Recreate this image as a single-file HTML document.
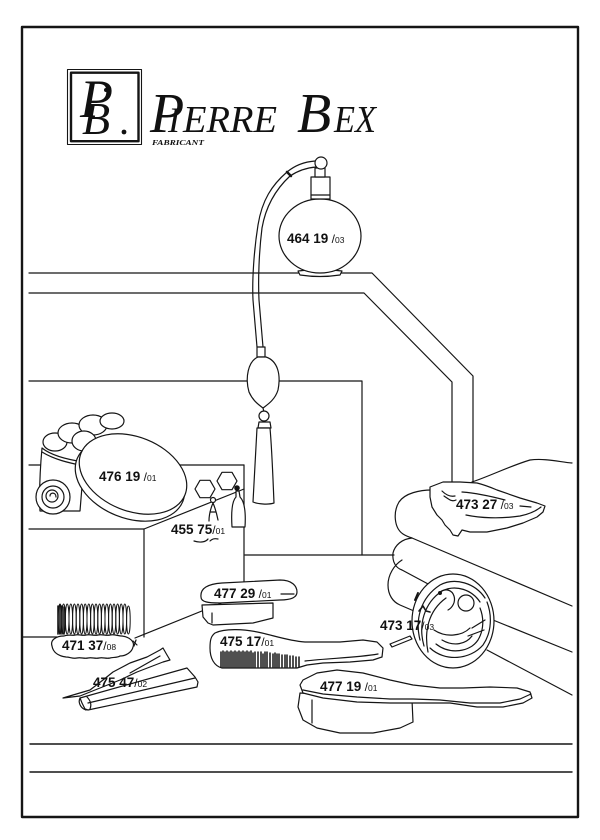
<!DOCTYPE html>
<html><head><meta charset="utf-8"><style>
html,body{margin:0;padding:0;background:#fff}
svg{display:block}
.lb{font-family:"Liberation Sans",sans-serif;font-weight:bold;font-size:13.5px;fill:#111;stroke:none}
.sl{font-weight:normal;font-size:12px}
.sf{font-weight:normal;font-size:8.5px}
.srf{font-family:"Liberation Serif",serif;font-style:italic;fill:#111;stroke:none}
</style></head><body>
<svg width="600" height="840" viewBox="0 0 600 840" xmlns="http://www.w3.org/2000/svg">
<rect width="600" height="840" fill="#fff"/>
<g fill="none" stroke="#151515" stroke-width="1.2" stroke-linejoin="round" stroke-linecap="round">
<!-- frame -->
<rect x="22" y="27" width="556" height="790" stroke-width="2.4"/>
<!-- logo box -->
<rect x="67.5" y="69.5" width="74" height="75" stroke-width="1.1"/>
<rect x="71" y="72.7" width="67.5" height="68.5" stroke-width="2.4"/>
<circle cx="124" cy="132" r="2.4" fill="#111" stroke="none"/>
<circle cx="106" cy="90" r="2" fill="#111" stroke="none"/>

<!-- shelf lines -->
<path d="M29,273 L372,273 L473,376 L473,482"/>
<path d="M29,293 L364,293 L452,382 L452,482"/>
<path d="M29,381 L362,381 L362,555"/>
<path d="M245,555 L394,555"/>
<path d="M29,465 L244,465"/>
<path d="M244,465 L244,585"/>
<path d="M29,529 L144,529 L244,489"/>
<path d="M144,529 L144,637"/>
<path d="M23,637 L57,637"/>
<path d="M135,638 L244,594"/>
<!-- bottom lines -->
<path d="M30,744 L572,744" stroke-width="1.4"/>
<path d="M30,772 L572,772" stroke-width="1.4"/>

<!-- perfume bottle -->
<path d="M298,271 Q320,268 342,271 L340,275 Q320,278 300,275 Z" fill="#fff"/>
<ellipse cx="320" cy="236" rx="41" ry="37" fill="#fff"/>
<rect x="311" y="177" width="19" height="22" fill="#fff"/>
<path d="M311,195 L330,195"/>
<rect x="315" y="168" width="10" height="9" fill="#fff"/>
<circle cx="321" cy="163" r="6" fill="#fff"/>
<!-- tube -->
<path d="M315,161 C302,162 293,167 287,172 C272,185 262,200 258,225 C254,250 252,280 253,300 L257,347"/>
<path d="M316,167 C304,168 296,172 290,176 C276,189 266,205 262,228 C259,252 258,280 259,300 L263,347"/>
<path d="M287,172 L291,176" stroke-width="2.5"/>
<!-- bulb -->
<rect x="257" y="347" width="8" height="10" fill="#fff"/>
<path d="M258,357 C248,361 245,378 249,392 C253,401 259,405 263,408 C267,405 275,400 278,390 C281,375 278,361 266,357 Z" fill="#fff"/>
<path d="M263,408 L264,412"/>
<circle cx="264" cy="416" r="5" fill="#fff"/>
<path d="M259,422 L270,422 L271,428 L258,428 Z" fill="#fff"/>
<path d="M257,428 L270,428 C272,450 273,480 274,503 C268,505 258,504 253,502 C254,480 256,450 257,428 Z" fill="#fff"/>

<!-- powder bowl and puffs -->
<ellipse cx="55" cy="442" rx="12" ry="9" fill="#fff"/>
<ellipse cx="72" cy="433" rx="14" ry="10" fill="#fff"/>
<ellipse cx="93" cy="425" rx="14" ry="10" fill="#fff"/>
<ellipse cx="112" cy="421" rx="12" ry="8" fill="#fff"/>
<ellipse cx="84" cy="441" rx="12" ry="10" fill="#fff"/>
<path d="M42,448 C40,470 39,490 40,511 L80,511 L84,462 C70,460 52,456 42,448 Z" fill="#fff"/>
<path d="M42,452 C55,460 70,463 84,466"/>
<circle cx="53" cy="497" r="17" fill="#fff"/>
<circle cx="53" cy="497" r="11"/>
<circle cx="52" cy="496" r="6"/>
<path d="M50,496 C50,492 56,492 56,497"/>
<!-- powder lid -->
<ellipse cx="130" cy="480" rx="57" ry="38" transform="rotate(22 130 480)" fill="#fff"/>
<ellipse cx="133" cy="474" rx="56" ry="37" transform="rotate(22 133 474)" fill="#fff"/>

<!-- earrings -->
<polygon points="215,489 210,480.3 200,480.3 195,489 200,497.7 210,497.7" fill="#fff"/>
<polygon points="237,481 232,472.3 222,472.3 217,481 222,489.7 232,489.7" fill="#fff"/>
<circle cx="213" cy="500" r="2.5" fill="#fff"/>
<circle cx="237" cy="488" r="2.2" fill="#111"/>
<path d="M213,503 C210,510 209,515 209,521 M213,503 C216,510 217,515 218,520 M210,512 L216,512"/>
<path d="M236,491 L236,497 C232,501 231,511 232,527 L245,527 C246,511 244,501 240,497 L239,491 Z" fill="#fff"/>
<path d="M194,541 C200,543 206,542 208,539 M210,541 C212,539 214,538 218,539"/>

<!-- towels -->
<path d="M472,482 C490,476 510,466 530,460 C545,458 560,462 572,463"/>
<path d="M432,490 C420,490 405,493 399,502 C393,512 394,528 403,534 C406,536 409,537 412,538 L572,606"/>
<path d="M412,538 C402,539 395,545 393,553 C392,562 396,568 402,570 L430,585"/>
<path d="M493,620 L572,652"/>
<path d="M402,560 C394,565 388,575 388,585 C388,595 393,602 400,605 L414,611"/>
<path d="M487,650 L572,695"/>

<!-- soap dish -->
<path d="M430,487 L443,482 L460,482 L477,483 C485,485 490,487 497,490 L520,498 L537,503 L545,506 L543,512 L537,517 L523,523 L507,528 L487,532 L470,532 L462,530 L458,536 L453,535 L450,530 L445,525 L442,520 L437,515 L432,507 L430,497 Z" fill="#fff"/>
<path d="M442,491 C446,495 450,497 455,496 M444,496 C450,500 452,502 456,500"/>
<path d="M466,515 C480,518 500,519 520,516 C530,514 536,511 541,507"/>
<path d="M520,506 L531,507"/>
<path d="M462,492 C475,493 490,496 505,500"/>

<!-- mirror -->
<ellipse cx="453" cy="621" rx="41" ry="47" fill="#fff"/>
<path d="M420,640 C415,620 420,598 440,585 C455,577 475,583 485,598"/>
<path d="M424,646 C418,625 424,603 442,591 C456,584 472,590 480,602"/>
<path d="M428,652 C424,632 428,611 446,598"/>
<path d="M430,648 C445,662 470,660 483,645 C492,632 492,615 487,602"/>
<path d="M436,644 C450,655 470,652 478,640 C484,630 484,618 480,608"/>
<path d="M442,640 C454,647 466,644 472,636"/>
<path d="M434,630 C446,638 462,636 470,628"/>
<path d="M472,628 L485,620 M468,636 L484,630"/>
<circle cx="466" cy="603" r="8" fill="#fff"/>
<path d="M440,592 C446,588 452,590 454,596 C456,602 452,608 448,610"/>
<circle cx="440" cy="593" r="1.4" fill="#111"/>
<path d="M419,611 L423,606 L426,611 L430,612" stroke-width="1.6"/>
<path d="M415,600 L418,593" stroke-width="2"/>
<path d="M390,644 L410,636 L412,639 L392,647 Z" fill="#fff"/>

<!-- brush 477 29 -->
<path d="M202,605 L203,617 L208,623 L213,625 L253,623 L273,618 L273,603 Z" fill="#fff"/>
<path d="M212,613 L212,623"/>
<path d="M201,597 C200,588 208,584 222,583 L280,580 C292,580 297,586 297,592 C297,598 290,600 280,600 L220,603 C208,603 201,602 201,597 Z" fill="#fff"/>
<path d="M281,594 L294,594"/>

<!-- brush 475 17 -->
<path d="M215,633 C225,628 245,629 262,633 C275,636 290,641 305,642 L340,642 L363,640 L377,642 L383,648 L382,657 L373,660 L350,662 L323,663 L307,665 L297,668 L222,668 C214,666 210,658 210,648 C210,640 211,636 215,633 Z" fill="#fff"/>
<path d="M305,661 C330,658 355,658 378,654"/>
<g stroke-width="1.5">
<path d="M221,652 L221,667 M223,651 L223,667 M225,652 L225,667 M227,651 L227,667 M229,652 L229,667 M231,651 L231,667 M233,652 L233,667 M235,651 L235,667 M237,652 L237,667 M239,651 L239,667 M241,652 L241,667 M243,651 L243,667 M245,652 L245,667 M247,651 L247,667 M249,652 L249,667 M251,651 L251,667 M253,653 L253,667 M255,652 L255,667 M258,652 L258,667 M261,652 L261,667 M263,654 L263,667 M265,652 L265,667 M267,652 L267,667 M270,653 L270,667 M273,654 L273,667 M275,653 L275,667 M277,654 L277,667 M279,654 L279,667 M282,655 L282,667 M285,655 L285,667 M287,655 L287,667 M290,656 L290,667 M293,656 L293,667 M296,657 L296,667 M299,657 L299,667"/>
</g>

<!-- brush 477 19 -->
<path d="M300,693 L298,707 L303,720 L317,728 L340,733 L373,733 L400,728 L413,722 L412,700 Z" fill="#fff"/>
<path d="M312,700 L312,723"/>
<path d="M300,685 L303,680 L317,673 L337,670 L363,673 L390,680 L413,685 L440,688 L463,688 L490,687 L517,688 L530,692 L532,698 L523,703 L503,707 L477,707 L450,703 L430,703 L413,703 L390,703 L357,702 L323,698 L303,693 Z" fill="#fff"/>
<path d="M303,690 L323,694 L357,697 L390,699 L413,699 L440,700 L470,703 L500,703 L520,699 L531,694"/>

<!-- comb 471 37 -->
<path d="M52,646 C50,640 56,636 64,636 C68,634 72,636 75,635 C79,634 82,636 86,635 C90,634 94,636 98,635 C102,634 106,636 110,635 C114,634 118,636 122,636 C130,637 135,642 133,647 C132,652 126,656 120,656 C117,658 113,657 110,658 C106,659 103,657 99,658 C95,659 92,657 88,658 C84,659 81,657 77,658 C73,659 70,657 66,657 C58,656 53,652 52,646 Z" fill="#fff"/>
<g stroke-width="1">
<ellipse cx="60" cy="619" rx="1.8" ry="15"/><ellipse cx="63.6" cy="619" rx="1.8" ry="15"/><ellipse cx="67.2" cy="619" rx="1.8" ry="15"/><ellipse cx="70.8" cy="619" rx="1.8" ry="15"/><ellipse cx="74.4" cy="619" rx="1.8" ry="15"/><ellipse cx="78" cy="619" rx="1.8" ry="15"/><ellipse cx="81.6" cy="619" rx="1.8" ry="15"/><ellipse cx="85.2" cy="619" rx="1.8" ry="15"/><ellipse cx="88.8" cy="619" rx="1.8" ry="15"/><ellipse cx="92.4" cy="619" rx="1.8" ry="15"/><ellipse cx="96" cy="619" rx="1.8" ry="15"/><ellipse cx="99.6" cy="619" rx="1.8" ry="15"/><ellipse cx="103.2" cy="619" rx="1.8" ry="15"/><ellipse cx="106.8" cy="619" rx="1.8" ry="15"/><ellipse cx="110.4" cy="619" rx="1.8" ry="15"/><ellipse cx="114" cy="619" rx="1.8" ry="15"/><ellipse cx="117.6" cy="619" rx="1.8" ry="15"/><ellipse cx="121.2" cy="619" rx="1.8" ry="15"/><ellipse cx="124.8" cy="619" rx="1.8" ry="15"/><ellipse cx="128.4" cy="620" rx="1.8" ry="14"/>
</g>
<path d="M58,606 L58,634 M60,605 L60,634 M62,606 L62,634 M64,607 L64,634" stroke-width="1.6"/>
<path d="M133,641 L137,645 M136,640 L134,646"/>

<!-- comb 475 47 -->
<path d="M63,698 L73,695 L90,690 L103,680 L113,672 L130,663 L147,657 L160,650 L163,648 L167,655 L170,660 L163,662 L150,667 L137,672 L120,680 L100,688 L80,696 Z" fill="#fff"/>
<path d="M80,698 L187,668 L195,677 L198,682 L197,687 L88,710 L85,709 L82,703 Z" fill="#fff"/>
<path d="M80,698 C78,702 80,708 86,710"/>
<path d="M87,697 C90,700 92,704 90,709"/>
<path d="M88,703 L195,678"/>
<path d="M130,673 L160,656"/>
</g>

<!-- text -->
<text class="srf" x="80" y="117" font-size="54">P</text>
<text class="srf" x="82" y="134" font-size="46">B</text>
<text class="srf" x="150" y="132" font-size="56">P</text>
<text class="srf" x="168" y="132" font-size="36">I</text>
<text class="srf" x="183" y="132" font-size="38" textLength="94" lengthAdjust="spacingAndGlyphs">ERRE</text>
<text class="srf" x="297" y="132" font-size="56">B</text>
<text class="srf" x="334" y="132" font-size="38" textLength="42" lengthAdjust="spacingAndGlyphs">EX</text>
<text x="152" y="145" font-family="'Liberation Serif',serif" font-style="italic" font-weight="bold" font-size="7.5" textLength="52" lengthAdjust="spacingAndGlyphs" fill="#111">FABRICANT</text>

<text class="lb" x="287" y="243">464 19<tspan class="sl"> /</tspan><tspan class="sf">03</tspan></text>
<text class="lb" x="99" y="481">476 19<tspan class="sl"> /</tspan><tspan class="sf">01</tspan></text>
<text class="lb" x="171" y="534">455 75<tspan class="sl">/</tspan><tspan class="sf">01</tspan></text>
<text class="lb" x="456" y="509">473 27<tspan class="sl"> /</tspan><tspan class="sf">03</tspan></text>
<text class="lb" x="214" y="598">477 29<tspan class="sl"> /</tspan><tspan class="sf">01</tspan></text>
<text class="lb" x="62" y="650">471 37<tspan class="sl">/</tspan><tspan class="sf">08</tspan></text>
<text class="lb" x="93" y="687">475 47<tspan class="sl">/</tspan><tspan class="sf">02</tspan></text>
<text class="lb" x="220" y="646">475 17<tspan class="sl">/</tspan><tspan class="sf">01</tspan></text>
<text class="lb" x="380" y="630">473 17<tspan class="sl">/</tspan><tspan class="sf">03</tspan></text>
<text class="lb" x="320" y="691">477 19<tspan class="sl"> /</tspan><tspan class="sf">01</tspan></text>
</svg>
</body></html>
